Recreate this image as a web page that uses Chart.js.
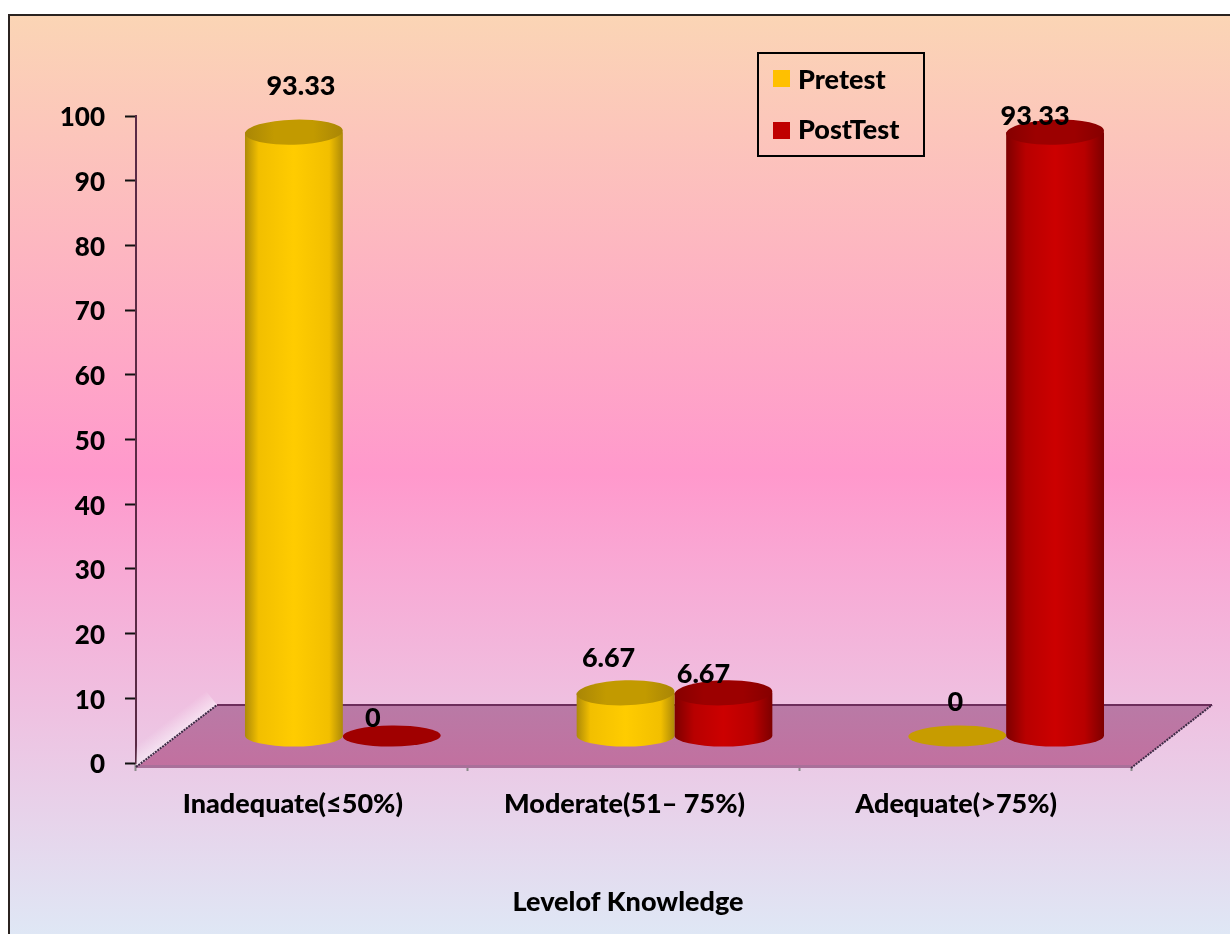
<!DOCTYPE html>
<html>
<head>
<meta charset="utf-8">
<script src="https://cdn.jsdelivr.net/npm/chart.js@4"></script>
<style>
  html, body { margin: 0; padding: 0; background: #fff; }
  canvas { display: block; }
</style>
</head>
<body>
<canvas id="myChart" width="1230" height="934"></canvas>
<script>
let categories = ['Inadequate(≤50%)', 'Moderate(51– 75%)', 'Adequate(>75%)'];
let pretest = [93.33, 6.67, 0];
let postTest = [0, 6.67, 93.33];
let yTicks = [0, 10, 20, 30, 40, 50, 60, 70, 80, 90, 100];
let xTitle = 'Levelof Knowledge';

const FONT = 'Lato, sans-serif';
const WEIGHT = '900';
// how far the floor pushes a bar back from the axis
const DEPTH_X = 41, DEPTH_Y = -27;
const FLOOR_X = 81, FLOOR_BACK = 705;

// hand placed value labels, per dataset and per category
let labelNudge = [
  [[7, -46], [-17, -35], [-2, -34]],
  [[-19, -18], [-20, -19], [-20, -16]]
];

let palette = [
  { edge: '#ad8a08', soft: '#f2bf00', mid: '#ffcc00', top: '#c29a00', topEdge: '#a98606', flat: '#c79c00', stop: 0.14 },
  { edge: '#7d0000', soft: '#b80000', mid: '#cc0000', top: '#9c0000', topEdge: '#860000', flat: '#a00000', stop: 0.2 }
];

function background(ctx) {
  let g = ctx.createLinearGradient(0, 15, 0, 934);
  g.addColorStop(0, '#fbd5b5');
  g.addColorStop(0.5, '#ff99cc');
  g.addColorStop(1, '#dfe7f5');
  ctx.fillStyle = g;
  ctx.fillRect(9, 15, 1221, 919);
  ctx.strokeStyle = '#2b2320';
  ctx.lineWidth = 2;
  ctx.strokeRect(9, 15, 1230, 930);
}

function floor(chart) {
  let ctx = chart.ctx, x = chart.scales.x, y = chart.scales.y;
  let front = y.getPixelForValue(0) + 5;
  ctx.save();

  // pale glow behind the left floor edge, fading away from it
  let midX = x.left + FLOOR_X / 2, midY = (front + FLOOR_BACK) / 2;
  let wall = ctx.createLinearGradient(midX, midY, midX - 11, midY - 14);
  wall.addColorStop(0, 'rgba(255,255,255,0.5)');
  wall.addColorStop(1, 'rgba(255,255,255,0)');
  ctx.fillStyle = wall;
  ctx.beginPath();
  ctx.moveTo(x.left, front);
  ctx.lineTo(x.left + FLOOR_X, FLOOR_BACK);
  ctx.lineTo(x.left + FLOOR_X - 11, FLOOR_BACK - 14);
  ctx.lineTo(x.left, FLOOR_BACK + 40);
  ctx.closePath();
  ctx.fill();

  let g = ctx.createLinearGradient(0, FLOOR_BACK, 0, front);
  g.addColorStop(0, '#b97aa6');
  g.addColorStop(1, '#c2709f');
  ctx.fillStyle = g;
  ctx.beginPath();
  ctx.moveTo(x.left, front);
  ctx.lineTo(x.left + FLOOR_X, FLOOR_BACK);
  ctx.lineTo(x.right + FLOOR_X, FLOOR_BACK);
  ctx.lineTo(x.right, front);
  ctx.closePath();
  ctx.fill();

  // front lip
  ctx.fillStyle = '#a9709a';
  ctx.fillRect(x.left, front - 3, x.right - x.left, 3);

  ctx.strokeStyle = '#6d2e5b';
  ctx.lineWidth = 2;
  ctx.beginPath();
  ctx.moveTo(x.left + FLOOR_X, FLOOR_BACK);
  ctx.lineTo(x.right + FLOOR_X, FLOOR_BACK);
  ctx.stroke();

  ctx.strokeStyle = '#3d2a45';
  ctx.setLineDash([2, 1]);
  ctx.beginPath();
  ctx.moveTo(x.left, front - 1);
  ctx.lineTo(x.left + FLOOR_X, FLOOR_BACK);
  ctx.moveTo(x.right, front);
  ctx.lineTo(x.right + FLOOR_X, FLOOR_BACK);
  ctx.stroke();
  ctx.restore();
}

function cylinder(ctx, bar, colors) {
  let cx = bar.x + DEPTH_X;
  let top = bar.y + DEPTH_Y;
  let base = bar.base + DEPTH_Y;
  let rx = bar.width / 2;

  ctx.save();
  if (base - top < 1) {
    ctx.fillStyle = colors.flat;
    ctx.beginPath();
    ctx.ellipse(cx, base, rx, 10.5, -0.01, 0, Math.PI * 2);
    ctx.fill();
    ctx.restore();
    return;
  }

  let side = ctx.createLinearGradient(cx - rx, 0, cx + rx, 0);
  side.addColorStop(0, colors.edge);
  side.addColorStop(colors.stop, colors.soft);
  side.addColorStop(0.5, colors.mid);
  side.addColorStop(1 - colors.stop, colors.soft);
  side.addColorStop(1, colors.edge);
  ctx.fillStyle = side;
  ctx.beginPath();
  ctx.moveTo(cx - rx, top);
  ctx.lineTo(cx - rx, base);
  ctx.ellipse(cx, base, rx, 11, 0, Math.PI, 0, true);
  ctx.lineTo(cx + rx, top);
  ctx.closePath();
  ctx.fill();

  let cap = ctx.createLinearGradient(cx - rx, 0, cx + rx, 0);
  cap.addColorStop(0, colors.topEdge);
  cap.addColorStop(0.3, colors.top);
  cap.addColorStop(0.7, colors.top);
  cap.addColorStop(1, colors.topEdge);
  ctx.fillStyle = cap;
  ctx.beginPath();
  ctx.ellipse(cx, top, rx, 12.5, -0.03, 0, Math.PI * 2);
  ctx.fill();
  ctx.restore();
}

function legendBox(chart) {
  let ctx = chart.ctx;
  ctx.save();
  ctx.strokeStyle = '#000';
  ctx.lineWidth = 2;
  ctx.strokeRect(758, 53, 166, 103);
  ctx.font = WEIGHT + ' 27px ' + FONT;
  ctx.textBaseline = 'middle';
  chart.data.datasets.forEach((ds, i) => {
    ctx.fillStyle = ds.backgroundColor;
    ctx.fillRect(773, 70 + i * 52, 17, 17);
    ctx.fillStyle = '#000';
    ctx.fillText(ds.label, 798, 80 + i * 50);
  });
  ctx.restore();
}

let cylinderPlugin = {
  id: 'cylinders',
  beforeDraw(chart) {
    background(chart.ctx);
  },
  beforeDatasetsDraw(chart) {
    floor(chart);
  },
  // the library's flat bars are replaced by round ones at the same scale positions
  beforeDatasetDraw(chart, args) {
    let meta = chart.getDatasetMeta(args.index);
    meta.data.forEach(bar => cylinder(chart.ctx, bar, palette[args.index]));
    return false;
  },
  afterDatasetsDraw(chart) {
    let ctx = chart.ctx;
    ctx.save();
    ctx.font = WEIGHT + ' 27px ' + FONT;
    ctx.fillStyle = '#000';
    ctx.textAlign = 'center';
    ctx.textBaseline = 'middle';
    chart.data.datasets.forEach((ds, i) => {
      chart.getDatasetMeta(i).data.forEach((bar, j) => {
        let nudge = labelNudge[i][j];
        ctx.fillText(String(ds.data[j]), bar.x + DEPTH_X + nudge[0], bar.y + DEPTH_Y + nudge[1]);
      });
    });
    ctx.fillText(xTitle, 628, 902);
    ctx.restore();
    legendBox(chart);
  }
};

let ctx = document.getElementById('myChart').getContext('2d');
let myChart = new Chart(ctx, {
  type: 'bar',
  plugins: [cylinderPlugin],
  data: {
    labels: categories,
    datasets: [
      { label: 'Pretest', data: pretest, backgroundColor: '#ffc000' },
      { label: 'PostTest', data: postTest, backgroundColor: '#c00000' }
    ]
  },
  options: {
    responsive: false,
    animation: false,
    events: [],
    layout: { padding: { left: 0, right: 99, top: 116, bottom: 0 } },
    plugins: { legend: { display: false }, tooltip: { enabled: false } },
    datasets: { bar: { categoryPercentage: 0.59, barPercentage: 1 } },
    scales: {
      x: {
        afterFit(scale) { scale.height = 934 - 763; },
        border: { display: false },
        grid: { drawOnChartArea: false, tickColor: '#8a8a8a', tickLength: 8, tickWidth: 2 },
        ticks: {
          color: '#000',
          font: { family: FONT, weight: WEIGHT, size: 27 },
          padding: 17,
          labelOffset: -9,
          maxRotation: 0
        }
      },
      y: {
        min: 0,
        max: 100,
        afterFit(scale) { scale.width = 136; },
        afterBuildTicks(scale) { scale.ticks = yTicks.map(v => ({ value: v })); },
        border: { color: '#5a2a45', width: 2 },
        grid: { drawOnChartArea: false, tickColor: '#111', tickLength: 11, tickWidth: 2 },
        ticks: {
          color: '#000',
          font: { family: FONT, weight: WEIGHT, size: 26 },
          padding: 20,
          labelOffset: 2
        }
      }
    }
  }
});
</script>
</body>
</html>
